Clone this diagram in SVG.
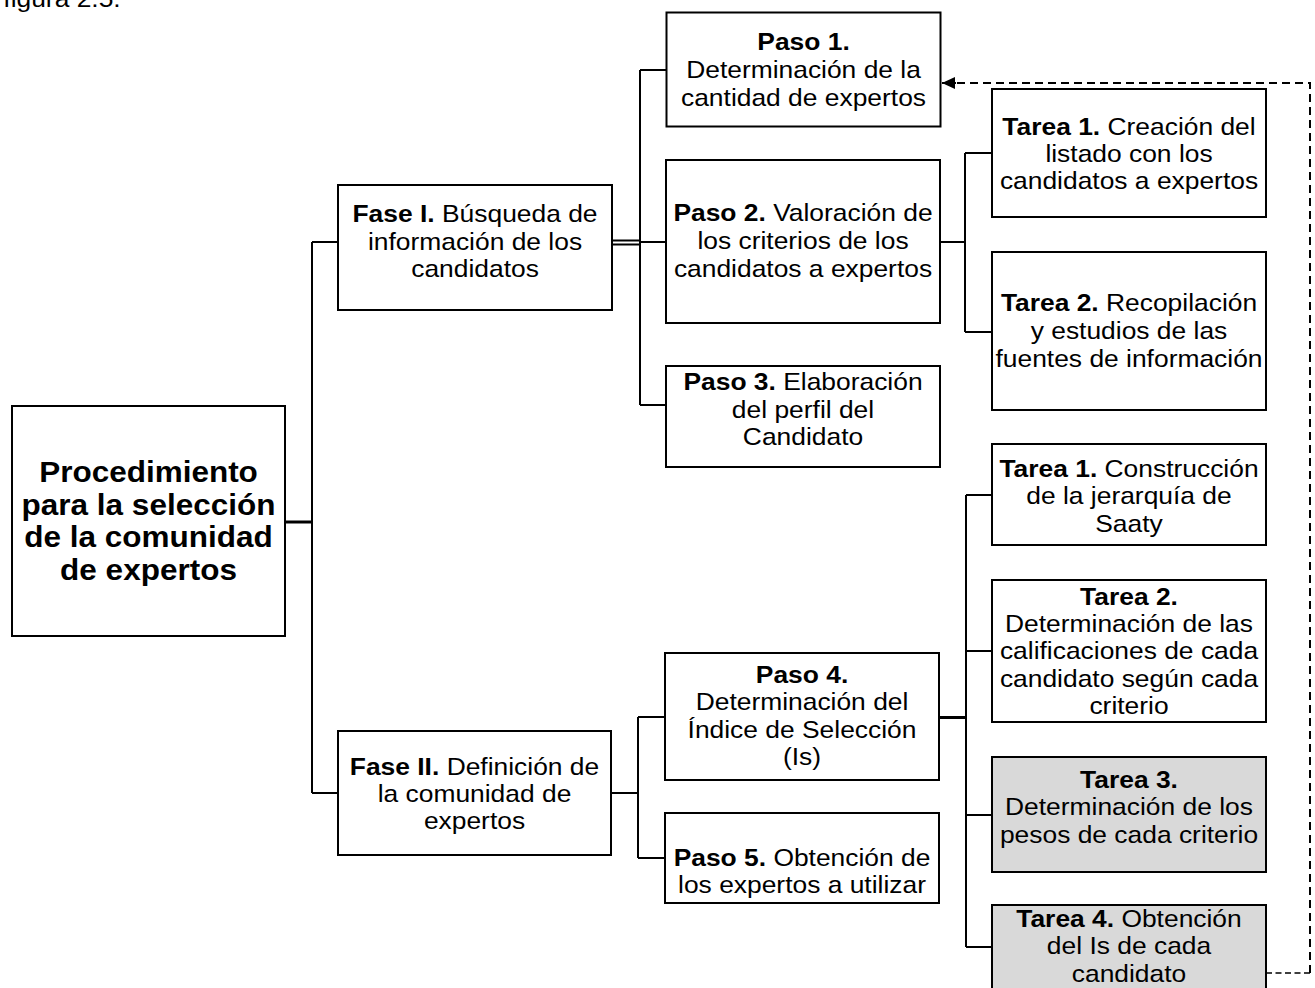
<svg xmlns="http://www.w3.org/2000/svg" width="1315" height="988" viewBox="0 0 1315 988">
<style>
.box{fill:#fff;stroke:#000;stroke-width:2}
.gray{fill:#d9d9d9;stroke:#000;stroke-width:2}
.t{font-family:"Liberation Sans",Arial,sans-serif;font-size:24px;fill:#000;text-anchor:middle}
.tm{font-family:"Liberation Sans",Arial,sans-serif;font-size:30px;font-weight:bold;fill:#000;text-anchor:middle}
.b{font-weight:bold}
.c{fill:none;stroke:#000;stroke-width:2}
.c3{fill:none;stroke:#000;stroke-width:3}
.d{fill:none;stroke:#000;stroke-width:2;stroke-dasharray:8 5}
.d1{fill:none;stroke:#000;stroke-width:1.3;stroke-dasharray:6 3.5}
</style>
<defs>
<marker id="ah" markerWidth="14" markerHeight="12" refX="13" refY="6" orient="auto" markerUnits="userSpaceOnUse">
<path d="M13,6 L0,0 L0,12 Z" fill="#000"/>
</marker>
</defs>
<text class="t" transform="translate(62 0) scale(1.1 1)"><tspan x="0" y="6.5">figura 2.5.</tspan></text>
<g id="connectors">
<path class="c3" d="M285,522 H312"/>
<path class="c" d="M312,242 V793 M312,242 H338 M312,793 H338"/>
<path class="c" d="M612,240.5 H640 M612,244.5 H640"/>
<path class="c" d="M640,70 V405 M640,70 H666 M640,242 H666 M640,405 H666"/>
<path class="c" d="M940,242 H965 M965,153 V332 M965,153 H992 M965,332 H992"/>
<path class="c" d="M611,793 H638 M638,717 V858 M638,717 H665 M638,858 H665"/>
<path class="c3" d="M939,717.5 H966"/>
<path class="c" d="M966,495 V947 M966,495 H992 M966,651 H992 M966,815 H992 M966,947 H992"/>
<path class="d1" d="M1266,973 H1310"/>
<path class="d" d="M1310,973 V83 H955"/>
<path d="M956,83 H942" stroke="#000" stroke-width="2" fill="none" marker-end="url(#ah)"/>
</g>
<g id="main">
<rect class="box" x="12" y="406" width="273" height="230"/>
<text class="tm" transform="translate(148.5 0) scale(1.05 1)"><tspan x="0" y="482">Procedimiento</tspan><tspan x="0" y="515">para la selección</tspan><tspan x="0" y="547">de la comunidad</tspan><tspan x="0" y="580">de expertos</tspan></text>
</g>
<g id="fase1">
<rect class="box" x="338" y="185" width="274" height="125"/>
<text class="t" transform="translate(475 0) scale(1.1 1)"><tspan x="0" y="222"><tspan class="b">Fase I.</tspan> Búsqueda de</tspan><tspan x="0" y="250">información de los</tspan><tspan x="0" y="277">candidatos</tspan></text>
</g>
<g id="fase2">
<rect class="box" x="338" y="731" width="273" height="124"/>
<text class="t" transform="translate(474.5 0) scale(1.1 1)"><tspan x="0" y="775"><tspan class="b">Fase II.</tspan> Definición de</tspan><tspan x="0" y="802">la comunidad de</tspan><tspan x="0" y="829">expertos</tspan></text>
</g>
<g id="paso1">
<rect class="box" x="666.5" y="12.5" width="274" height="114"/>
<text class="t" transform="translate(803.5 0) scale(1.1 1)"><tspan x="0" y="50" class="b">Paso 1.</tspan><tspan x="0" y="78">Determinación de la</tspan><tspan x="0" y="106">cantidad de expertos</tspan></text>
</g>
<g id="paso2">
<rect class="box" x="666" y="160" width="274" height="163"/>
<text class="t" transform="translate(803 0) scale(1.1 1)"><tspan x="0" y="221"><tspan class="b">Paso 2.</tspan> Valoración de</tspan><tspan x="0" y="249">los criterios de los</tspan><tspan x="0" y="277">candidatos a expertos</tspan></text>
</g>
<g id="paso3">
<rect class="box" x="666" y="366" width="274" height="101"/>
<text class="t" transform="translate(803 0) scale(1.1 1)"><tspan x="0" y="390"><tspan class="b">Paso 3.</tspan> Elaboración</tspan><tspan x="0" y="418">del perfil del</tspan><tspan x="0" y="445">Candidato</tspan></text>
</g>
<g id="paso4">
<rect class="box" x="665" y="653" width="274" height="127"/>
<text class="t" transform="translate(802 0) scale(1.1 1)"><tspan x="0" y="683" class="b">Paso 4.</tspan><tspan x="0" y="710.5">Determinación del</tspan><tspan x="0" y="738">Índice de Selección</tspan><tspan x="0" y="765.5">(Is)</tspan></text>
</g>
<g id="paso5">
<rect class="box" x="665" y="813" width="274" height="90"/>
<text class="t" transform="translate(802 0) scale(1.1 1)"><tspan x="0" y="866"><tspan class="b">Paso 5.</tspan> Obtención de</tspan><tspan x="0" y="893">los expertos a utilizar</tspan></text>
</g>
<g id="tarea1a">
<rect class="box" x="992" y="89" width="274" height="128"/>
<text class="t" transform="translate(1129 0) scale(1.1 1)"><tspan x="0" y="135"><tspan class="b">Tarea 1.</tspan> Creación del</tspan><tspan x="0" y="162">listado con los</tspan><tspan x="0" y="189">candidatos a expertos</tspan></text>
</g>
<g id="tarea2a">
<rect class="box" x="992" y="252" width="274" height="158"/>
<text class="t" transform="translate(1129 0) scale(1.1 1)"><tspan x="0" y="311"><tspan class="b">Tarea 2.</tspan> Recopilación</tspan><tspan x="0" y="339">y estudios de las</tspan><tspan x="0" y="367">fuentes de información</tspan></text>
</g>
<g id="tarea1b">
<rect class="box" x="992" y="444" width="274" height="101"/>
<text class="t" transform="translate(1129 0) scale(1.1 1)"><tspan x="0" y="477"><tspan class="b">Tarea 1.</tspan> Construcción</tspan><tspan x="0" y="504.5">de la jerarquía de</tspan><tspan x="0" y="532">Saaty</tspan></text>
</g>
<g id="tarea2b">
<rect class="box" x="992" y="580" width="274" height="142"/>
<text class="t" transform="translate(1129 0) scale(1.1 1)"><tspan x="0" y="605" class="b">Tarea 2.</tspan><tspan x="0" y="632">Determinación de las</tspan><tspan x="0" y="659">calificaciones de cada</tspan><tspan x="0" y="687">candidato según cada</tspan><tspan x="0" y="714">criterio</tspan></text>
</g>
<g id="tarea3b">
<rect class="gray" x="992" y="757" width="274" height="115"/>
<text class="t" transform="translate(1129 0) scale(1.1 1)"><tspan x="0" y="788" class="b">Tarea 3.</tspan><tspan x="0" y="815.5">Determinación de los</tspan><tspan x="0" y="843">pesos de cada criterio</tspan></text>
</g>
<g id="tarea4b">
<rect class="gray" x="992" y="905" width="274" height="95"/>
<text class="t" transform="translate(1129 0) scale(1.1 1)"><tspan x="0" y="927"><tspan class="b">Tarea 4.</tspan> Obtención</tspan><tspan x="0" y="954.5">del Is de cada</tspan><tspan x="0" y="982">candidato</tspan></text>
</g>
</svg>
